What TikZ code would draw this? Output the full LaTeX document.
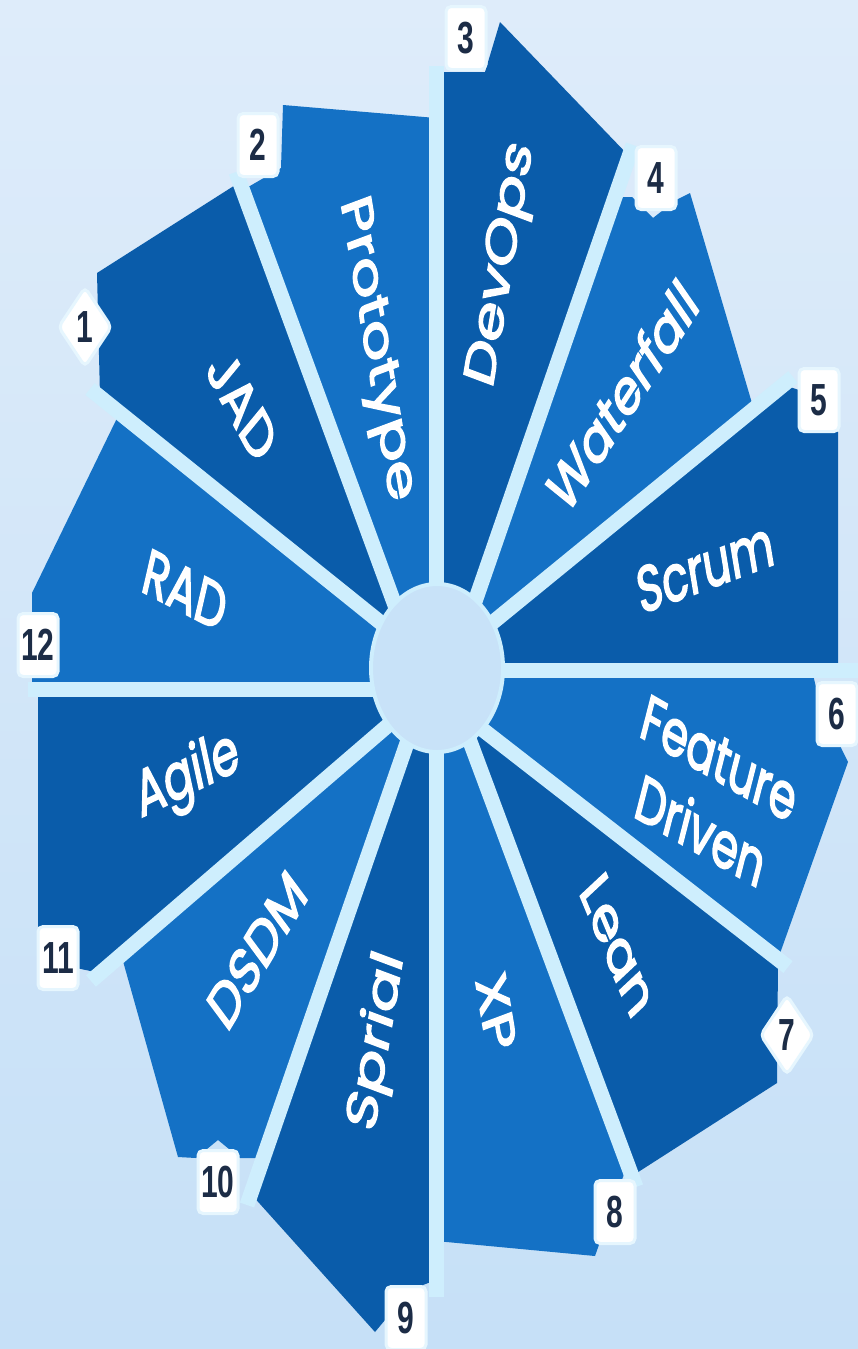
\documentclass[tikz,border=0pt]{standalone}
\usepackage{fontspec}
\setmainfont{Poppins}
\newfontfamily\lblfont{Poppins}[FakeBold=3]
\newfontfamily\numfont{Liberation Sans}
\usetikzlibrary{shapes.geometric}
\definecolor{bgtop}{RGB}{222,236,250}
\definecolor{bgbot}{RGB}{198,224,247}
\definecolor{segdark}{RGB}{10,92,170}
\definecolor{segmid}{RGB}{20,113,197}
\definecolor{gapc}{RGB}{206,238,253}
\definecolor{hubc}{RGB}{200,226,248}
\definecolor{numc}{RGB}{28,44,70}
\begin{document}
\begin{tikzpicture}[x=1pt,y=-1pt,
  lbl/.style={text=white, font=\lblfont\fontsize{43}{52}\selectfont, yscale=1.5, align=center, inner sep=0pt},
  numbox/.style={fill=white, draw=white!50!gapc, line width=3pt, rounded corners=5pt, minimum width=40pt, minimum height=42pt, inner sep=0pt, yscale=1.5, text=numc, font=\numfont\bfseries\fontsize{30}{30}\selectfont},
  numdia/.style={numbox, diamond, minimum width=54pt, minimum height=54pt},
  dseg/.style={fill=segdark},
  mseg/.style={fill=segmid},
  spoke/.style={draw=gapc, line width=15pt}
]
\useasboundingbox (0,0) rectangle (858,1349);
\shade[top color=bgtop, bottom color=bgbot] (0,0) rectangle (858,1349);

% segments
\fill[dseg] (100,396) -- (97,273) -- (240,182) -- (418,668) -- (437,668) -- cycle; % JAD
\fill[mseg] (418,668) -- (243,190) -- (281,168) -- (283,105) -- (436,118) -- (436,668) -- cycle; % Prototype
\fill[dseg] (436,668) -- (436,72) -- (485,72) -- (500,22) -- (629,156) -- (452,668) -- cycle; % DevOps
\fill[mseg] (452,668) -- (615,197) -- (632,197) -- (653,218) -- (676,200) -- (690,193) -- (754,410) -- (437,668) -- cycle; % Waterfall
\fill[dseg] (437,668) -- (784,385) -- (805,392) -- (838,432) -- (838,670) -- (437,670) -- cycle; % Scrum
\fill[mseg] (437,670) -- (812,670) -- (820,705) -- (848,762) -- (778,959) -- (460,712) -- cycle; % Feature Driven
\fill[dseg] (460,712) -- (778,959) -- (777,1083) -- (632,1176) -- (462,720) -- cycle; % Lean
\fill[mseg] (462,720) -- (629,1160) -- (595,1256) -- (436,1241) -- (436,668) -- cycle; % XP
\fill[dseg] (436,668) -- (436,1280) -- (410,1290) -- (375,1332) -- (251,1194) -- (415,720) -- cycle; % Sprial
\fill[mseg] (415,720) -- (263,1158) -- (240,1158) -- (218,1140) -- (196,1158) -- (178,1157) -- (121,954) -- (400,715) -- cycle; % DSDM
\fill[dseg] (400,715) -- (100,973) -- (38,960) -- (38,689) -- (437,689) -- cycle; % Agile
\fill[mseg] (437,689) -- (32,689) -- (32,593) -- (120,412) -- (437,668) -- cycle; % RAD

% gaps
\coordinate (c0) at (437,668);
\draw[spoke] (c0) -- (90,389);
\draw[spoke] (418,668) -- (236,172);
\draw[spoke] (436,668) -- (436,66);
\draw[spoke] (452,668) -- (633,145);
\draw[spoke] (c0) -- (793,377);
\draw[spoke] (437,670) -- (858,670);
\draw[spoke] (460,712) -- (788,967);
\draw[spoke] (462,720) -- (636,1187);
\draw[spoke] (436,668) -- (436,1297);
\draw[spoke] (415,720) -- (247,1205);
\draw[spoke] (400,715) -- (91,981);
\draw[spoke] (437,689) -- (28,689);

% hub
\fill[hubc, draw=gapc, line width=4pt] (c0) ellipse [x radius=66, y radius=84];

% labels
\node[lbl, rotate=-51] (jad) at (242,405) {JAD};
\node[lbl, rotate=-76] (proto) at (375,350) {Prototype};
\node[lbl, rotate=76] (devops) at (503,265) {DevOps};
\node[lbl, rotate=46] (water) at (622,395) {Waterfall};
\node[lbl, rotate=14] (scrum) at (705,567) {Scrum};
\node[lbl, rotate=-21] (feat) at (710,795) {Feature\\Driven};
\node[lbl, rotate=-58] (lean) at (618,945) {Lean};
\node[lbl, rotate=-76] (xp) at (496,1012) {XP};
\node[lbl, rotate=76] (spr) at (378,1042) {Sprial};
\node[lbl, rotate=48] (dsdm) at (257,950) {DSDM};
\node[lbl, rotate=18] (agile) at (188,778) {Agile};
\node[lbl, rotate=-19] (rad) at (185,590) {RAD};

% numbers
\node[numdia] (n1) at (85,327) {1};
\node[numbox] (n2) at (258,145) {2};
\node[numbox] (n3) at (466,38) {3};
\node[numbox] (n4) at (656,178) {4};
\node[numbox] (n5) at (819,400) {5};
\node[numbox] (n6) at (837,714) {6};
\node[numdia] (n7) at (787,1035) {7};
\node[numbox] (n8) at (615,1212) {8};
\node[numbox] (n9) at (406,1318) {9};
\node[numbox] (n10) at (218,1182) {10};
\node[numbox] (n11) at (58,958) {11};
\node[numbox] (n12) at (38,645) {12};
\end{tikzpicture}
\end{document}
